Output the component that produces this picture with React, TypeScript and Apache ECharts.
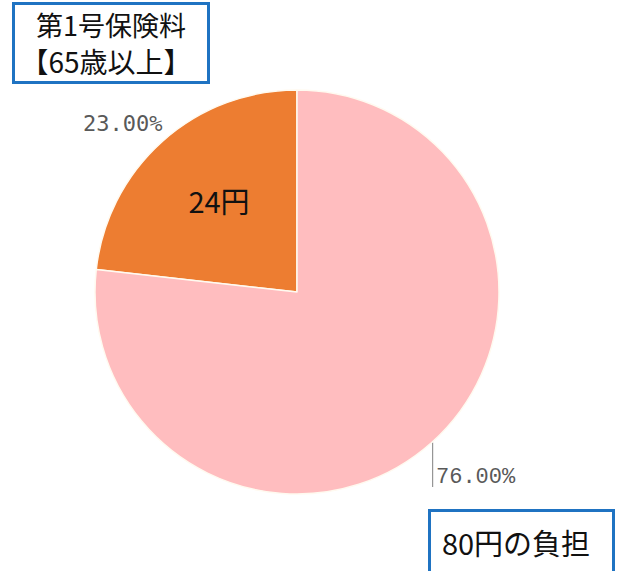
import React, { useEffect, useRef } from 'react';
import * as echarts from 'echarts';

const categories = ['第1号保険料', 'その他'];
const percentages = [23, 76];
const sliceColors = ['#ED7D31', '#FFBDBF'];
const labelFonts = ['DejaVu Sans Mono', 'Liberation Mono'];
const titleLines = ['第1号保険料', '【65歳以上】'];
const sliceAmountText = '24円';
const burdenText = '80円の負担';

export default function App() {
  const ref = useRef<HTMLDivElement>(null);
  useEffect(() => {
    document.body.style.margin = '0';
    const chart = echarts.init(ref.current!, undefined, { renderer: 'svg' });
    const cjk = '"Noto Sans CJK JP", "Noto Sans", sans-serif';
    chart.setOption({
      animation: false,
      backgroundColor: '#ffffff',
      series: [
        {
          type: 'pie',
          center: [297, 292],
          radius: 202,
          startAngle: 90,
          clockwise: false,
          silent: true,
          emphasis: { disabled: true },
          itemStyle: { borderColor: '#fffaf0', borderWidth: 1.5 },
          labelLine: { show: true, lineStyle: { color: '#808080', width: 1 }, length: 10, length2: 10 },
          label: {
            show: true,
            position: 'outside',
            color: '#595959',
            fontSize: 22,
            formatter: (p: any) => p.value.toFixed(2) + '%',
          },
          labelLayout: (p: any) => {
            if (p.dataIndex === 0) {
              return { x: 83, y: 123, align: 'left', verticalAlign: 'middle' };
            }
            const p0 = p.labelLinePoints ? p.labelLinePoints[0] : [433, 442];
            return {
              x: 436,
              y: 477,
              align: 'left',
              verticalAlign: 'middle',
              labelLinePoints: [[p0[0] + 1, p0[1]], [p0[0] + 1, 487], [p0[0] + 1, 487]],
            };
          },
          data: categories.map((name, i) => ({
            name,
            value: percentages[i],
            itemStyle: { color: sliceColors[i] },
            label: { fontFamily: labelFonts[i] },
            labelLine: { show: i === 1 },
          })),
        },
      ],
      graphic: [
        {
          type: 'rect',
          shape: { x: 13.5, y: 3.5, width: 195, height: 79 },
          style: { fill: '#ffffff', stroke: '#1F73C2', lineWidth: 3 },
        },
        {
          type: 'text',
          x: 111,
          y: 24,
          style: { text: titleLines[0], font: '27px ' + cjk, fill: '#111111', align: 'center', verticalAlign: 'middle' },
        },
        {
          type: 'text',
          x: 106,
          y: 61,
          style: { text: titleLines[1], font: '28px ' + cjk, fill: '#111111', align: 'center', verticalAlign: 'middle' },
        },
        {
          type: 'text',
          x: 219,
          y: 200,
          z: 100,
          style: { text: sliceAmountText, font: '29px ' + cjk, fill: '#111111', align: 'center', verticalAlign: 'middle' },
        },
        {
          type: 'rect',
          shape: { x: 429.5, y: 510.5, width: 184, height: 80 },
          style: { fill: '#ffffff', stroke: '#1F73C2', lineWidth: 3 },
        },
        {
          type: 'text',
          x: 516,
          y: 542,
          style: { text: burdenText, font: '29px ' + cjk, fill: '#111111', align: 'center', verticalAlign: 'middle' },
        },
      ],
    });
    return () => chart.dispose();
  }, []);
  return <div ref={ref} style={{ position: 'absolute', left: 0, top: 0, width: 621, height: 571 }} />;
}
